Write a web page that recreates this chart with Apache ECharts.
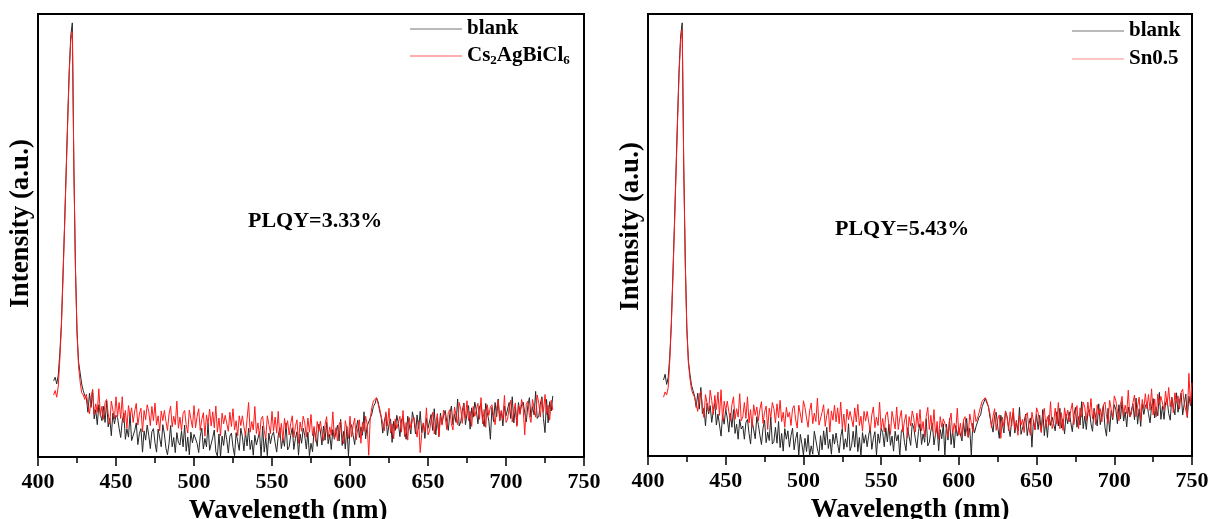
<!DOCTYPE html>
<html><head><meta charset="utf-8">
<script src="https://cdn.jsdelivr.net/npm/echarts@6/dist/echarts.min.js"></script>
<style>html,body{margin:0;padding:0;background:#fff}#c{width:1212px;height:519px}</style>
</head><body><div id="c"></div>
<script>
// wavelength grid: 1 nm steps
const leftStart = 410, leftEnd = 730;
const rightStart = 410, rightEnd = 750;
const xMin = 400, xMax = 750, xStep = 50;

// intensities (a.u.) (one row = 10 nm, first row = 410-430 nm)
const leftBlank = [
172,180,165,185,235,300,410,520,640,760,870,950,980,655,430,285,215,190,165,150,138,
133,101,144,112,152,86,107,73,118,96,
82,114,78,127,68,88,48,99,75,94,
89,65,44,81,99,40,64,45,98,37,
34,60,77,28,53,64,11,59,38,72,
49,19,57,64,32,11,63,43,23,73,
52,20,5,31,71,23,44,10,55,33,
27,59,23,72,13,45,5,56,32,51,
55,31,10,47,65,18,42,23,76,15,
18,44,61,12,2,52,0,47,26,60,
39,9,47,54,22,3,55,35,15,65,
46,14,57,25,65,17,38,4,49,27,
25,57,0,70,11,43,3,54,30,49,
56,32,11,48,66,19,43,24,77,16,
23,49,66,17,42,57,4,52,31,65,
48,18,56,3,31,12,64,44,24,74,
59,27,70,38,78,30,51,17,62,40,
40,72,36,85,26,58,18,69,2,64,
73,49,28,65,83,44,68,49,102,41,
70,66,88,97,114,120,133,125,104,90,
54,80,97,48,73,86,33,81,60,94,
76,46,84,91,59,40,92,72,52,102,
84,52,95,63,103,55,76,42,87,65,
64,96,60,109,50,88,48,99,75,94,
105,81,60,97,115,73,97,78,131,70,
79,105,122,73,98,116,63,111,90,124,
105,75,113,120,88,69,121,101,81,40,
112,80,123,91,131,83,104,70,115,93,
91,123,87,136,77,112,72,123,99,118,
124,100,79,116,134,90,114,95,148,87,
93,119,136,87,55,130,77,125,104,138
];
const leftCs = [
140,150,135,160,220,295,400,515,635,750,865,940,960,650,425,280,205,170,145,140,130,
142,118,97,134,152,96,120,101,154,93,
115,85,123,130,98,74,126,106,86,136,
91,123,87,136,77,105,65,116,92,111,
78,104,121,72,97,110,57,105,84,118,
103,71,114,82,122,72,93,59,104,82,
105,81,60,97,115,68,92,73,126,65,
90,60,98,105,73,54,106,86,66,116,
66,92,109,60,85,100,47,95,74,108,
70,102,66,115,56,88,48,99,75,94,
90,58,101,69,109,61,82,48,93,71,
93,69,48,85,123,56,80,61,114,53,
77,47,85,92,60,41,93,73,53,103,
58,90,54,103,44,76,36,87,63,82,
50,76,93,44,69,84,31,79,58,92,
77,45,88,56,96,48,69,35,80,58,
81,57,36,73,91,44,68,49,102,41,
66,36,74,81,49,30,82,62,42,92,
45,71,88,39,64,84,31,79,58,92,
74,4,88,112,126,124,134,120,110,92,
91,59,102,70,110,54,75,41,86,64,
60,92,56,105,46,78,38,89,65,84,
90,66,45,82,10,53,77,58,111,50,
58,84,101,52,77,98,45,93,72,106,
92,62,100,107,75,61,113,93,73,123,
108,76,119,87,127,82,103,69,114,92,
89,121,85,134,75,107,67,118,94,113,
118,94,73,110,128,81,105,86,139,78,
85,111,128,79,104,122,69,117,96,130,
111,50,119,126,94,78,130,110,90,140,
122,90,133,101,141,96,117,83,128,106
];
const rightBlank = [
172,185,162,178,225,300,410,525,645,765,875,950,980,660,440,290,215,185,160,148,135,
110,142,106,155,96,108,68,119,95,114,
76,102,119,70,95,98,45,93,72,106,
86,54,97,65,105,51,72,38,83,61,
68,38,76,83,51,27,79,59,39,89,
71,47,26,63,81,30,54,35,88,27,
33,65,29,78,19,51,11,62,38,57,
20,46,63,14,39,54,1,49,28,2,
40,10,48,0,23,4,56,36,16,1,
46,14,57,25,65,17,38,4,49,27,
52,28,7,44,62,15,39,20,73,12,
24,56,20,69,10,42,0,53,29,48,
21,47,64,15,40,55,2,50,29,63,
53,21,64,32,72,24,45,11,56,34,
48,0,56,63,31,12,64,44,24,74,
63,39,18,55,73,26,50,31,84,23,
31,57,74,25,50,65,12,60,39,73,
0,72,36,85,26,58,18,69,45,64,
66,34,77,45,85,42,63,1,74,52,
66,64,88,93,112,114,130,120,112,88,
84,54,92,99,67,40,92,72,52,102,
89,65,44,81,99,52,76,57,110,49,
52,78,95,46,71,86,20,81,60,94,
60,92,56,105,46,82,42,93,69,88,
89,57,100,68,108,63,84,50,95,73,
100,76,55,92,110,65,89,70,123,62,
90,60,98,105,73,56,108,88,68,118,
71,97,114,65,45,108,55,103,82,116,
105,73,116,84,124,79,100,66,111,89,
86,118,82,131,72,107,67,118,94,113,
120,96,75,112,130,86,110,91,144,83,
113,83,121,128,96,81,133,113,93,143,
99,125,142,93,118,140,87,135,114,148
];
const rightSn = [
133,145,138,155,215,295,400,515,635,755,865,940,965,650,430,285,210,175,150,140,133,
131,101,139,146,114,87,139,119,99,149,
126,94,137,105,145,92,150,79,124,102,
124,100,79,116,134,83,107,88,141,80,
89,121,85,134,75,105,65,116,92,111,
80,106,123,74,99,113,60,108,87,121,
107,75,118,86,126,78,99,65,110,88,
99,69,107,114,82,63,115,95,75,125,
110,86,65,102,120,73,97,78,131,70,
73,99,116,67,92,107,54,102,81,115,
77,109,73,122,63,95,55,106,82,101,
98,66,109,77,117,69,90,56,101,79,
101,77,56,93,111,64,88,69,122,61,
85,55,93,100,68,49,101,81,61,111,
60,86,103,54,79,94,41,89,68,102,
86,54,97,65,105,57,78,44,89,110,
60,92,56,105,46,78,38,89,65,84,
87,63,42,79,97,50,74,55,108,47,
74,44,82,89,57,43,95,75,55,105,
78,86,98,112,124,127,132,124,112,96,
64,90,107,58,83,93,40,88,67,101,
89,57,100,68,108,60,81,47,92,70,
83,53,91,98,66,47,99,79,59,109,
98,74,53,90,108,65,89,70,123,62,
76,108,72,121,62,98,58,109,85,104,
77,103,120,71,96,114,61,109,88,122,
111,79,122,90,130,84,105,71,116,94,
107,77,115,122,90,74,126,106,86,136,
125,101,80,117,135,91,115,96,149,88,
95,121,138,89,114,133,80,128,107,141,
107,139,103,152,93,129,89,140,116,135,
136,104,147,115,155,111,132,98,143,121,
136,106,144,151,119,104,88,187,116,166
];

const leftNames = ['blank', 'Cs2AgBiCl6'];
const rightNames = ['blank', 'Sn0.5'];
const leftNote = 'PLQY=3.33%';
const rightNote = 'PLQY=5.43%';
const xTitle = 'Wavelength (nm)';
const yTitle = 'Intensity (a.u.)';

function pairs(start, vals) {
  return vals.map((v, i) => [start + i, v]);
}

const FONT = 'Liberation Serif, Times New Roman, serif';
const chart = echarts.init(document.getElementById('c'), null, {renderer: 'canvas'});

function xAxisCfg(idx, padRight) {
  return {
    type: 'value', gridIndex: idx, min: xMin, max: xMax, interval: xStep,
    axisLine: {show: true, lineStyle: {color: '#000', width: 2}},
    axisTick: {show: true, inside: false, length: 9, lineStyle: {color: '#000', width: 1.5}},
    minorTick: {show: true, splitNumber: 2, length: 6, lineStyle: {color: '#000', width: 1.5}},
    splitLine: {show: false},
    axisLabel: {color: '#000', fontFamily: FONT, fontWeight: 'bold', fontSize: 22, margin: 14},
    name: xTitle, nameLocation: 'middle', nameGap: 34,
    nameTextStyle: {color: '#000', fontFamily: FONT, fontWeight: 'bold', fontSize: 27, padding: [0, padRight, 0, 0]}
  };
}
function yAxisCfg(idx, padLeft) {
  return {
    type: 'value', gridIndex: idx, min: 0, max: 1000,
    axisLine: {show: true, lineStyle: {color: '#000', width: 2}},
    axisTick: {show: false}, axisLabel: {show: false}, splitLine: {show: false},
    name: yTitle, nameLocation: 'middle', nameGap: 3, nameRotate: 90,
    nameTextStyle: {color: '#000', fontFamily: FONT, fontWeight: 'bold', fontSize: 27, padding: [0, 0, 0, padLeft]}
  };
}
const legendText = {
  color: '#000', fontFamily: FONT, fontWeight: 'bold', fontSize: 21, lineHeight: 22,
  rich: {s: {fontFamily: FONT, fontWeight: 'bold', fontSize: 13, lineHeight: 13, verticalAlign: 'bottom', color: '#000'}}
};
const fmt = n => n === 'Cs2AgBiCl6' ? 'Cs{s|2}AgBiCl{s|6}' : n;
const noteStyle = {color: '#000', fontFamily: FONT, fontWeight: 'bold', fontSize: 22};
const BLACK = '#262626', RED = '#ff1a1a';

chart.setOption({
  animation: false,
  backgroundColor: '#fff',
  grid: [
    {left: 38, right: 628, top: 14, bottom: 62, show: true, borderColor: '#000', borderWidth: 2,
     containLabel: false, outerBoundsMode: 'none'},
    {left: 648, right: 20, top: 14, bottom: 63, show: true, borderColor: '#000', borderWidth: 2,
     containLabel: false, outerBoundsMode: 'none'}
  ],
  xAxis: [xAxisCfg(0, 46), xAxisCfg(1, 20)],
  yAxis: [yAxisCfg(0, 24), yAxisCfg(1, 17)],
  title: [
    {text: leftNote, left: 248, top: 210, padding: 0, textStyle: noteStyle},
    {text: rightNote, left: 835, top: 218, padding: 0, textStyle: noteStyle}
  ],
  legend: [
    {data: leftNames, orient: 'vertical', left: 410, top: 18, icon: 'rect', itemWidth: 52, itemHeight: 1.2, itemGap: 5,
     padding: 0, formatter: fmt, textStyle: legendText, selectedMode: false},
    {data: rightNames, orient: 'vertical', left: 1072, top: 20, icon: 'rect', itemWidth: 52, itemHeight: 1.2, itemGap: 6,
     padding: 0, formatter: fmt, textStyle: legendText, selectedMode: false}
  ],
  series: [
    {name: leftNames[0], type: 'line', xAxisIndex: 0, yAxisIndex: 0, data: pairs(leftStart, leftBlank),
     showSymbol: false, symbol: 'none', lineStyle: {color: BLACK, width: 1}, itemStyle: {color: '#777'}},
    {name: leftNames[1], type: 'line', xAxisIndex: 0, yAxisIndex: 0, data: pairs(leftStart, leftCs),
     showSymbol: false, symbol: 'none', lineStyle: {color: RED, width: 1}, itemStyle: {color: '#ff5a5a'}},
    {name: rightNames[0], type: 'line', xAxisIndex: 1, yAxisIndex: 1, data: pairs(rightStart, rightBlank),
     showSymbol: false, symbol: 'none', lineStyle: {color: BLACK, width: 1}, itemStyle: {color: '#777'}},
    {name: rightNames[1], type: 'line', xAxisIndex: 1, yAxisIndex: 1, data: pairs(rightStart, rightSn),
     showSymbol: false, symbol: 'none', lineStyle: {color: RED, width: 1}, itemStyle: {color: '#ff8a8a'}}
  ]
});
</script></body></html>
